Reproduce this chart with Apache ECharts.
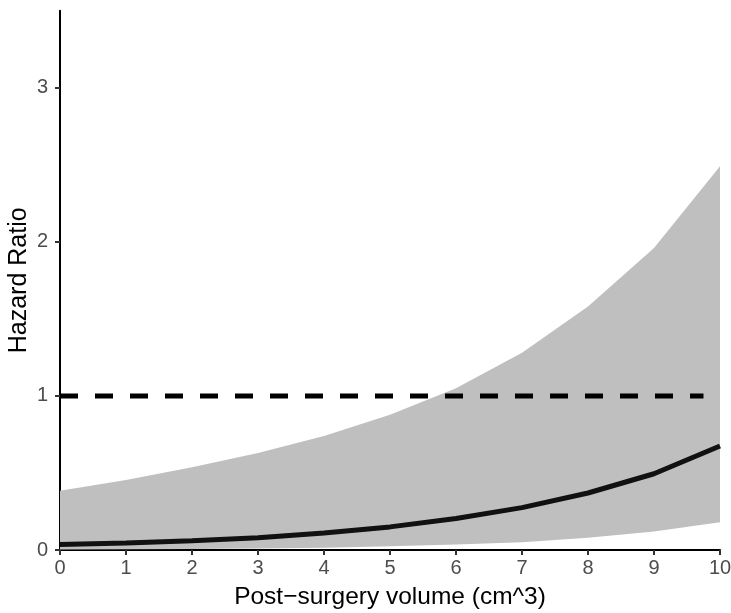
<!DOCTYPE html>
<html>
<head>
<meta charset="utf-8">
<script src="https://cdn.jsdelivr.net/npm/echarts@6/dist/echarts.min.js"></script>
<style>
html,body{margin:0;padding:0;background:#fff;}
#chart{width:731px;height:613px;}
</style>
</head>
<body>
<div id="chart"></div>
<script>
var volume = [0, 1, 2, 3, 4, 5, 6, 7, 8, 9, 10];
var hazardRatio = [0.035, 0.045, 0.06, 0.08, 0.11, 0.15, 0.205, 0.275, 0.37, 0.495, 0.675];
var upperCI = [0.385, 0.455, 0.537, 0.63, 0.74, 0.877, 1.05, 1.28, 1.58, 1.96, 2.49];
var lowerCI = [0.003, 0.005, 0.007, 0.01, 0.015, 0.024, 0.035, 0.05, 0.08, 0.12, 0.18];
var referenceLine = [[0, 1], [9.75, 1]];
var xTicks = [0, 1, 2, 3, 4, 5, 6, 7, 8, 9, 10];
var yTicks = [0, 1, 2, 3];

var bandData = volume.map(function (x, i) { return [x, lowerCI[i], upperCI[i]]; });
var hrData = volume.map(function (x, i) { return [x, hazardRatio[i]]; });

var chart = echarts.init(document.getElementById('chart'), null, {renderer: 'canvas'});
var font = 'Liberation Sans, Arial, sans-serif';
chart.setOption({
  animation: false,
  backgroundColor: '#ffffff',
  grid: {left: 60, right: 11, top: 10.7, bottom: 63, containLabel: false, outerBoundsMode: 'none'},
  xAxis: {
    type: 'value', min: 0, max: 10, interval: 1,
    name: 'Post\u2212surgery volume (cm^3)', nameLocation: 'middle', nameGap: 35, nameMoveOverlap: false,
    nameTextStyle: {color: '#000', fontSize: 24.5, fontFamily: font},
    axisLine: {show: true, onZero: false, lineStyle: {color: '#000', width: 2}},
    axisTick: {show: true, length: 5, lineStyle: {color: '#333', width: 2}, customValues: xTicks},
    axisLabel: {color: '#4d4d4d', fontSize: 20, fontFamily: font, margin: 8, customValues: xTicks},
    splitLine: {show: false}
  },
  yAxis: {
    type: 'value', min: 0, max: 3.5,
    name: 'Hazard Ratio', nameLocation: 'middle', nameGap: 28, nameMoveOverlap: false,
    nameTextStyle: {color: '#000', fontSize: 25, fontFamily: font},
    axisLine: {show: true, onZero: false, lineStyle: {color: '#000', width: 2}},
    axisTick: {show: true, length: 5, lineStyle: {color: '#333', width: 2}, customValues: yTicks},
    axisLabel: {color: '#4d4d4d', fontSize: 20, fontFamily: font, margin: 12, customValues: yTicks},
    splitLine: {show: false}
  },
  series: [
    {
      name: 'band', type: 'custom', data: bandData, silent: true, z: 1,
      encode: {x: 0, y: [1, 2]},
      renderItem: function (params, api) {
        if (params.dataIndex !== 0) { return null; }
        var upper = [], lower = [];
        for (var i = 0; i < bandData.length; i++) {
          upper.push(api.coord([bandData[i][0], bandData[i][2]]));
          lower.unshift(api.coord([bandData[i][0], bandData[i][1]]));
        }
        return {
          type: 'polygon',
          shape: {points: upper.concat(lower)},
          style: {fill: '#bfbfbf', stroke: null}
        };
      }
    },
    {
      name: 'HR', type: 'line', data: hrData, symbol: 'none',
      lineStyle: {color: '#111', width: 5}, z: 3
    },
    {
      name: 'ref', type: 'line', data: referenceLine, symbol: 'none',
      lineStyle: {color: '#000', width: 5, type: [18, 17]}, z: 4
    }
  ]
});
</script>
</body>
</html>
